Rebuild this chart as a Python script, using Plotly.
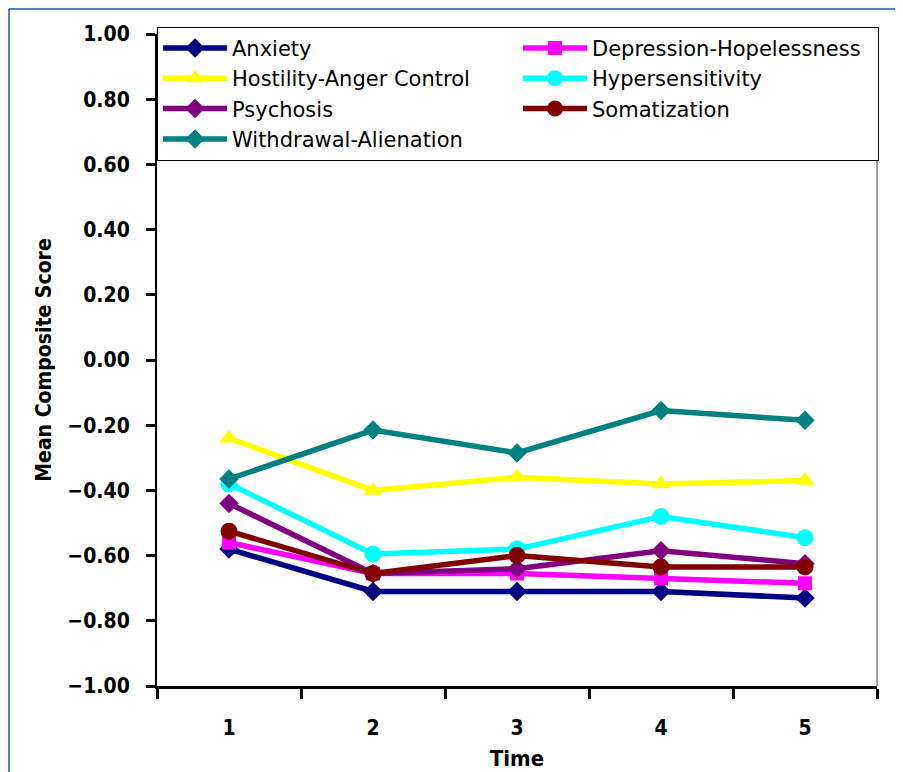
import plotly.graph_objects as go

time_labels = ["1", "2", "3", "4", "5"]

anxiety = [-0.58, -0.71, -0.71, -0.71, -0.73]
depression = [-0.56, -0.655, -0.655, -0.67, -0.685]
hostility = [-0.24, -0.40, -0.36, -0.38, -0.37]
hypersensitivity = [-0.38, -0.595, -0.58, -0.48, -0.545]
psychosis = [-0.44, -0.655, -0.64, -0.585, -0.625]
somatization = [-0.525, -0.655, -0.60, -0.635, -0.635]
withdrawal = [-0.365, -0.215, -0.285, -0.155, -0.185]

series = [
    ("Anxiety", anxiety, "#000080", "diamond", 15),
    ("Depression-Hopelessness", depression, "#FF00FF", "square", 14),
    ("Hostility-Anger Control", hostility, "#FFFF00", "triangle-up", 17),
    ("Hypersensitivity", hypersensitivity, "#00FFFF", "circle", 17),
    ("Psychosis", psychosis, "#800080", "diamond", 15),
    ("Somatization", somatization, "#800000", "circle", 17),
    ("Withdrawal-Alienation", withdrawal, "#008080", "diamond", 15),
]

fig = go.Figure()
for name, vals, color, sym, size in series:
    fig.add_trace(go.Scatter(
        x=time_labels, y=vals, name=name, mode="lines+markers",
        line=dict(color=color, width=5.5),
        marker=dict(symbol=sym, size=size, color=color),
    ))

# page body has an 8px margin, so the figure is sized/offset to compensate
W, H = 895, 764
L, R, T, B = 149, 26, 26, 86
pw, ph = W - L - R, H - T - B

FONT = "DejaVu Sans Condensed"

fig.update_layout(
    width=W, height=H,
    margin=dict(l=L, r=R, t=T, b=B),
    paper_bgcolor="white", plot_bgcolor="white",
    font=dict(family=FONT, color="black"),
    showlegend=True,
    legend=dict(
        orientation="h", x=0, y=1.011, xanchor="left", yanchor="top",
        bordercolor="black", borderwidth=1, bgcolor="white",
        font=dict(family="DejaVu Sans", size=21, color="black"),
        entrywidth=281, entrywidthmode="pixels",
        tracegroupgap=0, itemwidth=64,
    ),
    xaxis=dict(
        type="category", range=[-0.5, 4.5], tickson="boundaries", ticks="outside",
        ticklen=10, tickwidth=3, tickcolor="black", showline=True, linecolor="black",
        linewidth=3, showgrid=False, zeroline=False, ticklabelstandoff=21,
        automargin=False,
        tickfont=dict(family=FONT, size=21, color="black", weight="bold"),
        title=dict(text="<b>Time</b>", font=dict(size=22, family=FONT), standoff=12),
    ),
    yaxis=dict(
        range=[-1.0, 1.0], tickvals=[-1.0, -0.8, -0.6, -0.4, -0.2, 0, 0.2, 0.4, 0.6, 0.8, 1.0],
        tickformat=".2f", ticks="outside", ticklen=9, tickwidth=3, tickcolor="black",
        showline=True, linecolor="black", linewidth=2, showgrid=False, zeroline=False,
        ticklabelstandoff=12, automargin=False,
        tickfont=dict(family=FONT, size=21, color="black", weight="bold"),
        title=dict(text="<b>Mean Composite Score</b>", font=dict(size=21, family=FONT), standoff=10),
    ),
    shapes=[
        dict(type="line", xref="paper", yref="paper", x0=1, x1=1, y0=0, y1=1,
             line=dict(color="#A0A0A0", width=2)),
        dict(type="line", xref="paper", yref="paper", x0=(1 - L) / pw, x1=(1 - L) / pw,
             y0=-B / ph, y1=1 + (T - 1) / ph, line=dict(color="#4F81BD", width=2)),
        dict(type="line", xref="paper", yref="paper", x0=(1 - L) / pw, x1=1 + R / pw,
             y0=1 + (T - 1) / ph, y1=1 + (T - 1) / ph, line=dict(color="#4F81BD", width=2)),
    ],
)

fig.write_html("out.html")
